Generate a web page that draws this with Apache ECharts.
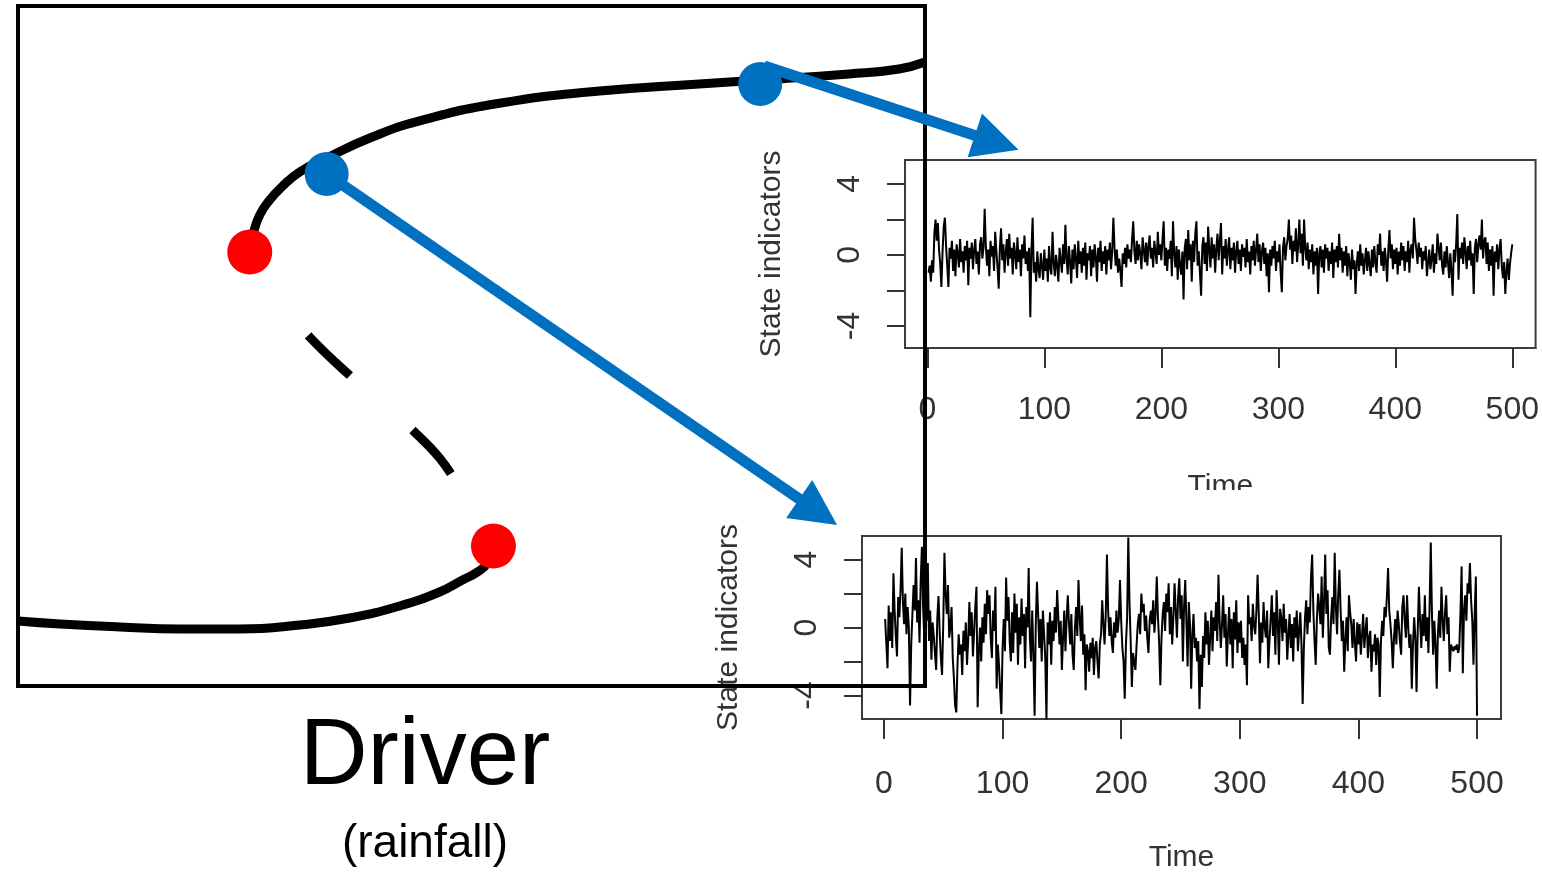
<!DOCTYPE html>
<html>
<head>
<meta charset="utf-8">
<script src="https://cdn.jsdelivr.net/npm/echarts@6/dist/echarts.min.js"></script>
<style>
html, body { margin: 0; padding: 0; background: #fff; }
#chart { width: 1542px; height: 874px; }
</style>
</head>
<body>
<div id="chart"></div>
<script>
// time series shown in the two small panels (t = 1..500)
var upperStateSeries = [
	-1.0,-0.6,-1.5,-0.3,-1.0,1.2,2.0,0.8,1.8,0.3,-0.5,-1.8,0.2,1.6,2.1,0.5,-0.6,-1.8,0.4,-0.2,0.8,-0.9,0.3,-1.2,0.6,
	0.1,-0.7,0.9,-0.4,0.2,-1.0,0.5,-0.3,0.8,-1.7,0.4,-0.2,0.7,-0.8,0.3,0.9,-0.5,0.2,-1.1,0.6,1.0,-0.2,0.4,2.6,0.5,
	-0.6,0.3,-1.2,0.8,-0.1,0.5,-0.9,1.3,0.2,-0.7,-1.9,0.4,1.5,-0.3,0.6,-1.0,0.2,0.9,-0.6,1.2,-0.2,0.4,-1.1,0.7,0.1,
	-0.8,1.0,-0.4,0.3,-1.2,0.6,-0.2,1.1,-0.5,0.2,-0.9,0.4,-3.5,0.3,2.1,-1.0,-0.4,-1.5,0.2,-0.8,-1.3,0.1,-0.6,-1.4,0.3,
	-0.9,-0.2,-1.5,0.5,-0.7,-1.1,1.3,-0.4,-1.2,0.0,-0.6,-1.5,0.4,-0.3,-1.0,0.6,-0.5,1.7,-0.2,-1.1,0.5,-0.4,-1.6,0.3,-0.8,
	0.6,-0.2,-1.3,0.8,-0.5,0.2,-1.0,0.4,-0.6,0.7,-1.4,0.1,-0.3,0.5,-1.2,0.3,-0.7,0.6,-0.1,-1.5,0.4,-0.4,0.8,-0.9,0.2,
	-0.5,0.5,-1.1,0.3,-0.3,0.7,-0.8,0.2,2.1,0.4,-0.6,0.3,-1.0,-0.2,-0.9,-1.8,0.1,-0.5,0.4,-0.7,0.6,-0.2,0.3,-0.4,0.9,
	1.9,0.2,-0.5,0.8,-0.3,0.6,0.1,-0.8,1.0,0.3,-0.4,0.7,-0.6,0.5,1.1,-0.2,0.4,-0.7,0.8,0.2,-0.5,1.3,0.0,0.6,-0.3,
	0.9,1.9,-0.6,0.4,-0.9,0.3,-0.2,0.8,-1.2,1.9,0.1,-0.7,0.5,-1.4,0.3,-0.6,-1.1,0.2,-2.5,0.4,0.9,-0.8,1.4,-0.3,0.6,
	-1.5,0.8,-0.4,1.2,1.9,-0.6,0.2,-1.0,-2.3,0.5,1.0,-0.5,0.7,-0.9,1.6,0.3,-0.7,1.0,-0.2,0.6,-1.0,0.4,1.2,-0.3,0.8,
	1.8,-1.1,0.5,-0.2,0.9,-0.6,0.3,1.0,-0.8,0.4,-0.3,0.7,-1.0,0.2,0.8,-0.5,0.3,-0.9,0.6,-0.1,0.4,-0.7,0.9,-0.4,0.2,
	-1.1,0.5,-0.3,0.8,-0.6,0.3,1.2,-0.4,0.6,-0.9,0.2,0.7,-0.5,0.4,-1.2,0.1,-2.1,0.3,-0.6,0.5,-0.2,0.8,-0.9,0.2,-0.4,
	0.6,-1.0,-2.1,0.4,1.0,-0.3,0.5,0.9,2.0,0.3,1.1,-0.5,0.8,0.2,1.5,-0.4,0.6,2.0,0.1,1.2,-0.6,2.0,0.4,-0.3,0.7,
	-0.8,0.3,-0.4,0.6,-1.1,0.2,-0.6,0.4,-2.2,0.1,0.5,-0.7,0.3,-1.0,0.6,-0.2,0.4,-0.9,0.2,-0.5,0.7,-1.3,0.3,-0.4,0.5,
	-0.7,1.2,-0.3,0.4,-1.0,0.2,-0.6,0.5,-1.2,0.1,-0.4,-1.4,0.3,-0.8,-0.3,-2.2,-0.5,0.2,-0.9,0.6,-0.6,0.1,-1.1,-0.3,0.4,
	-0.9,0.2,-0.5,-1.2,0.3,-0.7,0.5,-0.4,-1.0,0.6,0.0,1.2,-0.6,0.2,-0.9,0.4,-0.3,-1.5,0.3,1.4,-0.2,0.6,-0.8,0.3,-0.5,
	0.4,-1.1,0.2,-0.6,0.7,-0.3,0.5,-0.9,0.2,-0.4,0.8,-1.0,0.3,0.6,-0.2,2.1,0.9,0.3,-0.5,0.7,-0.1,0.4,-0.8,0.2,-0.3,
	0.5,-1.2,-0.4,0.3,-0.8,-0.2,0.6,-1.0,0.1,-0.5,1.2,0.4,-0.3,0.7,-0.6,-1.1,0.2,-0.7,0.5,-0.4,-1.3,0.1,-0.9,-2.3,0.3,
	-0.4,0.6,2.3,-1.4,0.4,-0.2,0.7,-0.5,1.0,0.2,-0.8,0.5,-0.3,0.8,-0.6,0.1,-2.2,0.4,0.9,-0.4,0.6,1.1,0.3,2.0,-0.2,
	0.8,1.0,-0.5,0.7,-0.9,0.3,-0.6,0.5,-2.3,0.2,-0.4,0.6,-0.8,0.3,0.9,-0.6,-1.3,-0.4,-2.2,-0.9,-0.2,-1.4,-0.5,0.1,0.6
]

var lowerStateSeries = [
	0.5,0.4,-2.4,1.3,-0.8,0.9,-1.2,3.2,1.0,-0.5,-1.7,1.8,0.6,2.2,4.7,1.5,0.2,2.0,-0.4,1.2,0.0,-4.6,-1.0,0.8,2.5,
	1.0,4.1,0.3,1.6,-0.9,2.8,4.75,1.2,-0.6,2.2,0.4,3.8,-0.8,1.0,-1.9,0.3,-0.5,-1.5,-2.5,0.6,1.85,-0.3,-1.8,-2.8,0.2,
	4.4,2.0,0.8,2.5,-0.6,0.0,1.2,-1.8,-3.0,-4.6,-5.0,-2.2,-0.4,-1.6,-1.0,-2.8,-0.2,-1.4,0.3,-2.2,-0.8,1.5,-0.5,0.9,-1.7,
	-0.3,1.2,2.4,-4.7,-1.5,0.0,-2.0,0.6,-0.9,1.4,-0.4,2.2,0.8,1.9,-0.6,-1.8,1.0,-0.2,2.4,-3.6,-1.0,-2.2,-3.8,-5.1,-1.2,
	0.5,-1.4,2.95,0.4,1.8,-0.8,-2.0,0.9,-1.5,2.0,-0.3,1.4,-2.2,0.6,-1.0,1.7,-0.5,0.8,-2.4,1.2,0.0,3.5,-0.6,-2.0,1.0,
	-1.6,-5.2,0.2,2.7,0.8,-1.2,0.5,-2.0,1.0,-0.4,-1.8,-5.4,0.3,-1.0,0.9,-2.2,0.4,-0.8,1.2,-0.3,2.2,0.6,-1.0,0.4,-2.5,
	-0.6,1.0,-1.4,0.5,1.9,0.2,-1.0,0.8,-1.6,-2.5,0.0,1.2,-0.5,2.8,0.6,-0.8,1.3,-1.6,-0.4,-3.7,-1.0,-1.4,-2.6,-0.9,-1.8,
	-0.6,-2.8,-1.2,-0.8,-2.0,-3.0,-1.0,-0.4,1.6,0.2,-1.0,0.8,4.3,1.0,-0.5,0.6,-0.8,-1.5,0.3,-0.6,1.0,-0.3,0.5,2.8,0.4,
	-1.2,-2.0,-4.2,-1.0,0.6,5.3,1.5,-0.8,-3.5,-1.5,-2.0,-2.5,-1.0,0.2,0.8,-0.4,2.0,0.9,1.4,-0.2,0.7,-0.6,-1.5,0.4,1.0,
	0.2,1.6,-0.3,0.8,3.0,0.6,-0.9,-3.4,-0.6,0.8,1.5,-0.2,2.0,0.9,2.6,-0.4,1.2,-1.0,0.6,2.6,1.0,-0.6,1.8,2.9,0.5,
	1.9,-2.0,1.2,2.8,0.3,-2.3,1.5,0.2,-3.6,-0.4,0.8,-1.2,-0.6,-2.0,-0.8,-4.8,-1.6,-3.5,-0.5,-1.8,0.9,-1.0,0.4,-2.2,-0.6,
	1.0,-1.4,0.6,-0.2,1.5,-0.8,3.1,0.4,-1.2,0.2,1.9,-0.6,0.8,-2.3,-0.4,1.2,-1.0,0.5,-2.4,0.9,-0.7,1.6,-1.5,0.3,-0.9,
	0.4,-1.8,-0.6,-2.2,-1.0,-3.4,1.9,0.2,0.6,-0.8,1.4,0.1,-0.4,1.0,3.1,0.8,-2.1,0.3,-0.9,1.5,0.0,-0.6,1.0,-2.4,-0.8,
	0.5,1.9,-0.5,0.9,-1.6,2.2,0.4,-2.2,1.1,0.6,-0.8,1.4,-0.3,0.5,-1.9,-0.4,0.8,-1.2,0.2,-2.0,0.6,-0.6,1.0,-1.4,-0.2,
	0.9,-1.0,-4.5,-1.2,0.6,1.6,-0.4,1.2,0.3,2.9,4.3,1.0,-0.8,-2.2,0.5,2.0,1.2,0.2,3.0,-0.6,1.5,4.3,0.8,2.2,-1.2,
	-1.6,0.6,1.8,0.2,4.4,1.2,-0.4,2.0,3.4,1.0,-0.8,0.4,-2.6,-0.8,0.6,-1.4,1.9,0.9,0.2,-1.2,0.5,-0.9,-2.0,0.3,-1.0,
	0.2,-1.6,-0.5,0.8,-1.2,-0.2,0.6,-1.8,-0.6,-0.2,-2.6,-1.0,-1.4,-0.4,-2.2,-0.6,-1.0,-4.1,-0.8,0.4,-0.5,1.2,0.6,1.8,3.5,
	1.0,0.2,-0.8,-2.4,-0.6,0.5,-1.0,1.0,0.2,-0.8,-1.6,1.2,1.9,0.4,-0.6,1.9,0.0,-1.2,-0.4,-3.6,-1.0,0.6,-0.6,-3.8,-0.2,
	2.4,0.4,-1.2,0.8,-0.5,1.9,-0.8,0.6,-1.5,1.2,5.0,0.8,-1.6,0.4,-1.0,-3.6,-0.4,1.0,-0.6,2.4,0.5,-0.8,0.9,1.9,-0.4,
	0.6,-2.6,-1.0,-1.2,-1.4,-1.1,-1.3,-1.0,-1.5,-1.2,0.8,3.6,-2.7,1.0,1.9,0.4,2.6,2.0,3.8,1.6,0.4,-2.2,0.8,3.0,-5.2
]

var timeTicks = [0, 100, 200, 300, 400, 500]
var stateTicks = [-4, -2, 0, 2, 4]
var stateTickLabels = [-4, 0, 4]

// bifurcation diagram, driver (x) vs state (y), both on a 0..100 scale
var upperBranch = [
	[25.66, 64.12], [25.99, 66.76], [26.65, 69.26], [27.75, 71.47], [29.07, 73.38],
	[31.06, 75.59], [34.03, 77.65], [38.99, 80.70], [44.27, 83.10], [53.08, 85.70],
	[64.10, 87.50], [75.11, 88.53], [81.83, 89.12], [91.63, 90.00], [97.14, 90.74], [100, 91.76]
]
var unstableBranch = [
	[25.55, 63.24], [28.08, 57.94], [32.16, 51.32], [36.78, 45.44], [40.42, 41.32],
	[43.72, 37.35], [46.48, 33.53], [48.68, 29.26], [50.44, 25.59], [51.98, 21.76]
]
var lowerBranch = [
	[52.42, 20.29], [51.76, 18.09], [50.66, 16.76], [49.01, 15.59], [46.48, 13.82],
	[42.07, 11.76], [36.56, 10.00], [31.06, 8.97], [24.45, 8.38], [17.84, 8.38],
	[11.23, 8.68], [4.63, 9.12], [0, 9.56]
]
var tippingPoints = [[25.55, 63.82], [52.42, 20.59]]
var samplePoints = [[81.83, 88.53], [34.03, 75.29]]
var arrowLinks = [
	[[82.27, 91.18], [107.9, 79.91]],
	[[34.36, 75.0], [88.22, 25.59]]
]

var FONT = '"Liberation Sans", Arial, sans-serif'
var BLUE = '#0070C0'

insetXAxis = (gridIndex, z) => {
	return {
		gridIndex: gridIndex,
		type: 'value',
		z: z,
		min: gridIndex === 0 ? -19.1 : -18.5,
		max: gridIndex === 0 ? 519.9 : 520.2,
		axisLine: { show: true, onZero: false, lineStyle: { color: '#3c3c3c', width: 2 } },
		splitLine: { show: false },
		axisTick: { show: true, customValues: timeTicks, length: 20, lineStyle: { color: '#333', width: 2 } },
		axisLabel: { customValues: timeTicks, margin: gridIndex === 0 ? 46 : 49, fontSize: 32, color: '#333', fontFamily: FONT },
		name: 'Time',
		nameLocation: 'middle',
		nameGap: 124,
		nameTextStyle: { fontSize: 30, color: '#333', fontFamily: FONT },
	}
}

insetYAxis = (gridIndex, z) => {
	return {
		gridIndex: gridIndex,
		type: 'value',
		z: z,
		min: gridIndex === 0 ? -5.24 : -5.39,
		max: gridIndex === 0 ? 5.35 : 5.39,
		axisLine: { show: true, onZero: false, lineStyle: { color: '#3c3c3c', width: 2 } },
		splitLine: { show: false },
		axisTick: { show: true, customValues: stateTicks, length: 18, lineStyle: { color: '#333', width: 2 } },
		axisLabel: { customValues: stateTickLabels, rotate: 90, margin: 39, fontSize: 32, color: '#333', fontFamily: FONT },
		name: 'State indicators',
		nameLocation: 'middle',
		nameGap: 118,
		nameRotate: 90,
		nameTextStyle: { fontSize: 30, color: '#333', fontFamily: FONT },
	}
}

var chart = echarts.init(document.getElementById('chart'))

var option = {
	animation: false,
	backgroundColor: '#fff',
	grid: [
		{ left: 905, top: 160, width: 635, height: 188, show: true, borderColor: '#3c3c3c', borderWidth: 2, z: 0 },
		{ left: 862, top: 536, width: 639, height: 186, show: true, borderColor: '#3c3c3c', borderWidth: 2, backgroundColor: '#fff', z: 5 },
		{ left: 18, top: 6, width: 907, height: 680, show: true, borderColor: '#000', borderWidth: 4, backgroundColor: 'transparent', z: 10 },
	],
	xAxis: [
		insetXAxis(0, 0),
		insetXAxis(1, 5),
		{ gridIndex: 2, type: 'value', min: 0, max: 100, show: false },
	],
	yAxis: [
		insetYAxis(0, 0),
		insetYAxis(1, 5),
		{ gridIndex: 2, type: 'value', min: 0, max: 100, show: false },
	],
	graphic: [
		// white backdrop of the lower panel, it hides the bottom of the upper "Time"
		{ type: 'rect', z: 3, silent: true, shape: { x: 690, y: 490, width: 852, height: 384 }, style: { fill: '#fff' } },
		{ type: 'text', z: 20, x: 425, y: 758, style: { text: 'Driver', fontSize: 94, fontFamily: FONT, fill: '#000', align: 'center', verticalAlign: 'middle' } },
		{ type: 'text', z: 20, x: 425, y: 844, style: { text: '(rainfall)', fontSize: 46, fontFamily: FONT, fill: '#000', align: 'center', verticalAlign: 'middle' } },
	],
	series: [
		{
			type: 'line',
			xAxisIndex: 0,
			yAxisIndex: 0,
			z: 2,
			symbol: 'none',
			data: upperStateSeries.map((v, i) => [i + 1, v]),
			lineStyle: { color: '#000', width: 2 },
		},
		{
			type: 'line',
			xAxisIndex: 1,
			yAxisIndex: 1,
			z: 6,
			symbol: 'none',
			data: lowerStateSeries.map((v, i) => [i + 1, v]),
			lineStyle: { color: '#000', width: 2 },
		},
		{
			type: 'line',
			xAxisIndex: 2,
			yAxisIndex: 2,
			z: 12,
			symbol: 'none',
			smooth: 0.5,
			clip: false,
			data: upperBranch,
			lineStyle: { color: '#000', width: 9 },
		},
		{
			type: 'line',
			xAxisIndex: 2,
			yAxisIndex: 2,
			z: 12,
			symbol: 'none',
			smooth: 0.5,
			clip: false,
			data: lowerBranch,
			lineStyle: { color: '#000', width: 9 },
		},
		{
			type: 'line',
			xAxisIndex: 2,
			yAxisIndex: 2,
			z: 12,
			symbol: 'none',
			smooth: 0.4,
			clip: false,
			data: unstableBranch,
			lineStyle: { color: '#000', width: 9, type: [58, 83], dashOffset: 42 },
		},
		{
			type: 'lines',
			coordinateSystem: 'cartesian2d',
			xAxisIndex: 2,
			yAxisIndex: 2,
			z: 13,
			clip: false,
			symbol: ['none', 'triangle'],
			symbolSize: [47, 46],
			data: arrowLinks.map((c) => ({ coords: c })),
			lineStyle: { color: BLUE, width: 11, opacity: 1 },
		},
		{
			type: 'scatter',
			xAxisIndex: 2,
			yAxisIndex: 2,
			z: 14,
			clip: false,
			symbolSize: 45,
			data: tippingPoints,
			itemStyle: { color: '#ff0000', opacity: 1 },
		},
		{
			type: 'scatter',
			xAxisIndex: 2,
			yAxisIndex: 2,
			z: 14,
			clip: false,
			symbolSize: 44,
			data: samplePoints,
			itemStyle: { color: BLUE, opacity: 1 },
		},
	],
}

chart.setOption(option)
</script>
</body>
</html>
